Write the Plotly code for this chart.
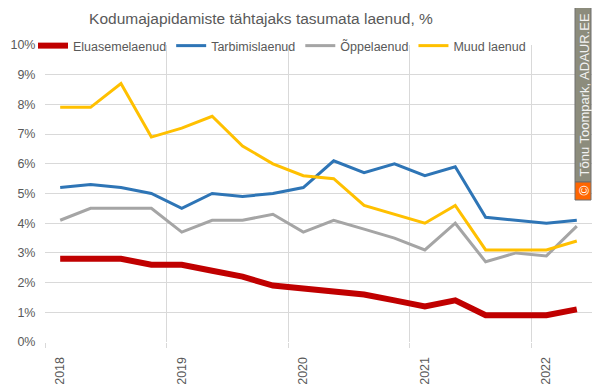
import plotly.graph_objects as go

quarters = ["2018Q1", "2018Q2", "2018Q3", "2018Q4",
            "2019Q1", "2019Q2", "2019Q3", "2019Q4",
            "2020Q1", "2020Q2", "2020Q3", "2020Q4",
            "2021Q1", "2021Q2", "2021Q3", "2021Q4",
            "2022Q1", "2022Q2"]

eluasemelaenud = [2.8, 2.8, 2.8, 2.6, 2.6, 2.4, 2.2, 1.9, 1.8, 1.7, 1.6, 1.4, 1.2, 1.4, 0.9, 0.9, 0.9, 1.1]
tarbimislaenud = [5.2, 5.3, 5.2, 5.0, 4.5, 5.0, 4.9, 5.0, 5.2, 6.1, 5.7, 6.0, 5.6, 5.9, 4.2, 4.1, 4.0, 4.1]
oppelaenud = [4.1, 4.5, 4.5, 4.5, 3.7, 4.1, 4.1, 4.3, 3.7, 4.1, 3.8, 3.5, 3.1, 4.0, 2.7, 3.0, 2.9, 3.9]
muud_laenud = [7.9, 7.9, 8.7, 6.9, 7.2, 7.6, 6.6, 6.0, 5.6, 5.5, 4.6, 4.3, 4.0, 4.6, 3.1, 3.1, 3.1, 3.4]

series_names = ["Eluasemelaenud", "Tarbimislaenud", "Õppelaenud", "Muud laenud"]
series_values = [eluasemelaenud, tarbimislaenud, oppelaenud, muud_laenud]
series_colors = ["#C00000", "#2E75B6", "#A5A5A5", "#FFC000"]
series_widths = [6, 3, 3, 3]

y_ticks = list(range(0, 11))
title_text = "Kodumajapidamiste tähtajaks tasumata laenud, %"
credit_text = "Tõnu Toompark, ADAUR.EE"

x_idx = list(range(len(quarters)))
year_ticks = [i for i, q in enumerate(quarters) if q.endswith("Q1")]
year_labels = [quarters[i][:4] for i in year_ticks]
boundaries = [i - 0.5 for i in year_ticks]

FONT = "Liberation Sans"
GREY = "#595959"
OFF = 8                              # default page body margin
W, H = 600 - 2 * OFF, 392 - 2 * OFF  # figure fits inside the page body
L, T = 45 - OFF, 45 - OFF
R = W - (592 - OFF)
B = H - (342 - OFF)
PW, PH = W - L - R, H - T - B


def px_x(win_x):
    """window pixel x -> paper fraction"""
    return (win_x - OFF - L) / PW


def px_y(win_y):
    """window pixel y -> paper fraction"""
    return (H - B - (win_y - OFF)) / PH


fig = go.Figure()
for name, vals, col, w in zip(series_names, series_values, series_colors, series_widths):
    fig.add_trace(go.Scatter(x=x_idx, y=vals, name=name, mode="lines",
                             line=dict(color=col, width=w)))

# invisible trace to anchor secondary x axis (gridlines at category boundaries)
fig.add_trace(go.Scatter(x=[x_idx[0]], y=[None], xaxis="x2", showlegend=False,
                         hoverinfo="skip", mode="lines"))

xrange = [-0.5, len(quarters) - 0.5]

fig.update_layout(
    width=W, height=H,
    margin=dict(l=L, r=R, t=T, b=B, autoexpand=False),
    paper_bgcolor="white", plot_bgcolor="white",
    font=dict(family=FONT, color=GREY, size=13),
    title=dict(text=title_text, x=(261 - OFF) / W, xanchor="center", xref="container",
               y=1 - (19 - OFF) / H, yanchor="middle", yref="container",
               font=dict(size=15.5, color=GREY, family=FONT)),
    showlegend=True,
    legend=dict(orientation="h", x=px_x(33), xanchor="left", y=px_y(31), yanchor="top",
                bgcolor="rgba(255,255,255,0)", font=dict(size=12.5, color=GREY, family=FONT),
                itemwidth=30, tracegroupgap=0),
    xaxis=dict(range=xrange, tickvals=year_ticks, ticktext=year_labels,
               tickangle=-90, showgrid=False, zeroline=False, showline=False,
               ticks="outside", ticklen=9, tickcolor="rgba(0,0,0,0)", automargin=False,
               tickfont=dict(size=12.5, color=GREY)),
    xaxis2=dict(range=xrange, overlaying="x", side="bottom", tickvals=boundaries,
                showticklabels=False, showgrid=True, gridcolor="#D9D9D9", gridwidth=1,
                ticks="outside", ticklen=5, tickcolor="#D9D9D9", zeroline=False,
                showline=False, automargin=False),
    yaxis=dict(range=[0, 10], tickvals=y_ticks, ticktext=[f"{v}%" for v in y_ticks],
               showgrid=True, gridcolor="#D9D9D9", gridwidth=1, zeroline=False,
               showline=False, ticks="outside", ticklen=6, tickcolor="rgba(0,0,0,0)",
               automargin=False, tickfont=dict(size=12.5, color=GREY)),
)

# credit watermark boxes
WM0, WM1 = 575, 591
fig.add_shape(type="rect", xref="paper", yref="paper",
              x0=px_x(WM0), x1=px_x(WM1), y0=px_y(182), y1=px_y(6),
              fillcolor="#8C8C7C", line=dict(color="#6E6E6E", width=1), layer="above")
fig.add_shape(type="rect", xref="paper", yref="paper",
              x0=px_x(WM0), x1=px_x(WM1), y0=px_y(200), y1=px_y(182),
              fillcolor="#FF6600", line=dict(color="#6E6E6E", width=1), layer="above")
fig.add_annotation(text=credit_text, textangle=-90, xref="paper", yref="paper",
                   x=px_x((WM0 + WM1) / 2 + 0.5), xanchor="center", y=px_y(95), yanchor="middle",
                   showarrow=False, font=dict(size=13, color="#F2F2F2", family=FONT))
fig.add_annotation(text="©", textangle=-90, xref="paper", yref="paper",
                   x=px_x((WM0 + WM1) / 2 + 0.5), xanchor="center", y=px_y(191), yanchor="middle",
                   showarrow=False, font=dict(size=13.5, color="white", family=FONT))

fig.write_html("out.html")
